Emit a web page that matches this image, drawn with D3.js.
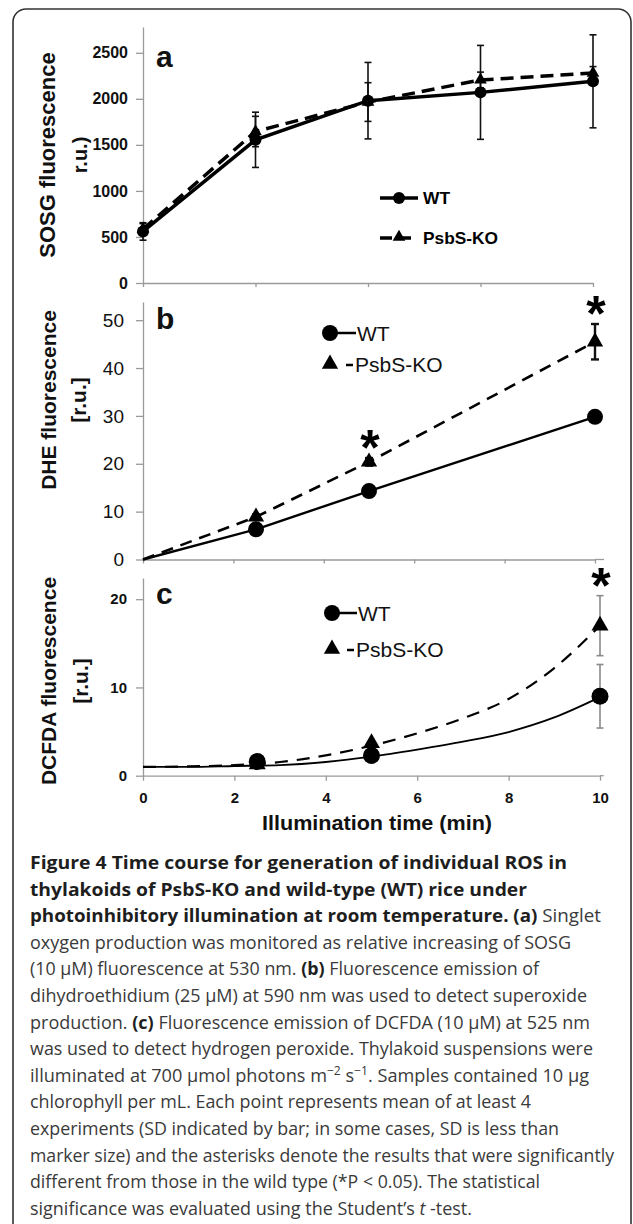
<!DOCTYPE html>
<html><head><meta charset="utf-8">
<script src="https://cdn.jsdelivr.net/npm/d3@7"></script>
<style>body{margin:0;background:#fff}svg{display:block}</style>
</head><body>
<svg id="chart" width="633" height="1224"></svg>
<script>
// ---------------- DATA ----------------
// Panel a: SOSG
const timesA = [0, 2.5, 5, 7.5, 10];
const sosgWT = [560, 1555, 1980, 2070, 2190];
const sosgWTsd = [95, 300, 415, 510, 505];
const sosgKO = [585, 1645, 1965, 2205, 2280];
const sosgKOsd = [60, 165, 210, 85, 70];
const sosgTicks = [0, 500, 1000, 1500, 2000, 2500];

// Panel b: DHE (line starts at origin)
const timesB = [0, 2.5, 5, 10];
const dheWT = [0, 6.3, 14.3, 29.8];
const dheWTsd = [0, 0.4, 0.6, 0.8];
const dheKO = [0, 8.9, 20.4, 45.5];
const dheKOsd = [0, 0.5, 0.8, 3.7];
const dheSig = [5, 10];
const dheTicks = [0, 10, 20, 30, 40, 50];

// Panel c: DCFDA
const timesC = [2.5, 5, 10];
const dcfWT = [1.6, 2.3, 9.0];
const dcfWTsd = [0.2, 0.3, 3.6];
const dcfKO = [1.3, 3.7, 17.0];
const dcfKOsd = [0.2, 0.4, 3.4];
const dcfSig = [10];
const dcfTicks = [0, 10, 20];
// fitted trend curves
const trendT = [0, 1, 2, 3, 4, 5, 6, 7, 8, 9, 10];
const dcfWTtrend = [1.0, 1.0, 1.1, 1.2, 1.55, 2.15, 2.95, 3.85, 4.95, 6.6, 8.9];
const dcfKOtrend = [1.0, 1.05, 1.2, 1.55, 2.3, 3.4, 4.8, 6.5, 8.7, 12.2, 17.0];

const timeTicks = [0, 2, 4, 6, 8, 10];
const seriesNames = ["WT", "PsbS-KO"];

const captionLines = [
  [["Figure 4 Time course for generation of individual ROS in","b"]],
  [["thylakoids of PsbS-KO and wild-type (WT) rice under","b"]],
  [["photoinhibitory illumination at room temperature. (a)","b"],[" Singlet","r"]],
  [["oxygen production was monitored as relative increasing of SOSG","r"]],
  [["(10 μM) fluorescence at 530 nm. ","r"],["(b)","b"],[" Fluorescence emission of","r"]],
  [["dihydroethidium (25 μM) at 590 nm was used to detect superoxide","r"]],
  [["production. ","r"],["(c)","b"],[" Fluorescence emission of DCFDA (10 μM) at 525 nm","r"]],
  [["was used to detect hydrogen peroxide. Thylakoid suspensions were","r"]],
  [["illuminated at 700 μmol photons m","r"],["−2","sup"],[" s","r"],["−1","sup"],[". Samples contained 10 μg","r"]],
  [["chlorophyll per mL. Each point represents mean of at least 4","r"]],
  [["experiments (SD indicated by bar; in some cases, SD is less than","r"]],
  [["marker size) and the asterisks denote the results that were significantly","r"]],
  [["different from those in the wild type (*P < 0.05). The statistical","r"]],
  [["significance was evaluated using the Student’s ","r"],["t","i"],[" -test.","r"]]
];
const captionWidths = [537, 497, 571, 541, 509, 557, 560, 563, 559, 501, 529, 584, 510, 442];

// ---------------- DRAW ----------------
const FONT = "'Liberation Sans', Arial, Helvetica, sans-serif";
const AX = "#9a9a9a";
const svg = d3.select("#chart");
const fmt = d3.format("d");

svg.append("rect").attr("x", 13).attr("y", 9).attr("width", 618).attr("height", 1260)
  .attr("rx", 13).attr("fill", "none").attr("stroke", "#333").attr("stroke-width", 1.6);

function styleAxis(g, fs, fw) {
  g.attr("font-family", null).attr("font-size", null);
  g.select(".domain").attr("stroke", AX).attr("stroke-width", 1.3);
  g.selectAll(".tick line").attr("stroke", AX).attr("stroke-width", 1.3);
  g.selectAll(".tick text").attr("font-family", FONT).attr("font-size", fs)
    .attr("font-weight", fw).attr("fill", "#111");
}
const pts = (ts, vs) => ts.map((t, i) => ({t, v: vs[i]}));

function yTitle(lines, cx, cy, fs) {
  lines.forEach(([txt, x, size]) => {
    svg.append("text").attr("transform", `translate(${x},${cy}) rotate(-90)`)
      .attr("text-anchor", "middle").attr("dominant-baseline", "central")
      .attr("font-family", FONT).attr("font-weight", "bold").attr("font-size", size)
      .attr("fill", "#111").text(txt);
  });
}
function panelLetter(txt, x, y, fs) {
  svg.append("text").attr("x", x).attr("y", y).attr("font-family", FONT)
    .attr("font-weight", "bold").attr("font-size", fs).attr("fill", "#111").text(txt);
}
function errBars(g, x, y, ts, vs, sds, cap, color, w) {
  ts.forEach((t, i) => {
    if (!sds[i]) return;
    const xx = x(t), y1 = y(vs[i] + sds[i]), y2 = y(vs[i] - sds[i]);
    g.append("line").attr("x1", xx).attr("x2", xx).attr("y1", y1).attr("y2", y2)
      .attr("stroke", color).attr("stroke-width", w);
    [y1, y2].forEach(yy => g.append("line").attr("x1", xx - cap).attr("x2", xx + cap)
      .attr("y1", yy).attr("y2", yy).attr("stroke", color).attr("stroke-width", w));
  });
}
function circles(g, x, y, ts, vs, r) {
  g.selectAll(null).data(pts(ts, vs).filter(d => d.t > 0 || ts.length === 5)).join("circle")
    .attr("cx", d => x(d.t)).attr("cy", d => y(d.v)).attr("r", r).attr("fill", "#000");
}
function triangles(g, x, y, ts, vs, size) {
  const sym = d3.symbol(d3.symbolTriangle, size);
  g.selectAll(null).data(pts(ts, vs).filter(d => d.t > 0 || ts.length === 5)).join("path")
    .attr("d", sym).attr("transform", d => `translate(${x(d.t)},${y(d.v)})`).attr("fill", "#000");
}
function asterisks(g, x, y, sigTimes, ts, vs, sds) {
  sigTimes.forEach(t => {
    const i = ts.indexOf(t);
    const cy = y(vs[i] + sds[i]) - 20;
    g.append("text").attr("x", x(t) + 1).attr("y", cy + 27).attr("text-anchor", "middle")
      .attr("font-family", FONT).attr("font-weight", "bold").attr("font-size", 50)
      .attr("fill", "#000").text("*");
  });
}

// ===== Panel a =====
{
  const x = d3.scaleLinear().domain([0, 10]).range([143, 593]);
  const y = d3.scaleLinear().domain([0, 2780]).range([283, 27]);
  const g = svg.append("g");
  g.append("g").attr("transform", "translate(143,0)")
    .call(d3.axisLeft(y).tickValues(sosgTicks).tickFormat(fmt).tickSize(7).tickPadding(8).tickSizeOuter(0))
    .call(a => styleAxis(a, 16, "bold"));
  g.append("g").attr("transform", "translate(0,283)")
    .call(d3.axisBottom(x).tickValues(timesA).tickSize(4).tickFormat("").tickSizeOuter(0))
    .call(a => styleAxis(a, 10, "normal"));
  const line = d3.line().x(d => x(d.t)).y(d => y(d.v));
  g.append("path").datum(pts(timesA, sosgKO)).attr("d", line).attr("fill", "none")
    .attr("stroke", "#000").attr("stroke-width", 3.5).attr("stroke-dasharray", "13,7");
  g.append("path").datum(pts(timesA, sosgWT)).attr("d", line).attr("fill", "none")
    .attr("stroke", "#000").attr("stroke-width", 3.5);
  errBars(g, x, y, timesA, sosgWT, sosgWTsd, 3.5, "#111", 1.6);
  errBars(g, x, y, timesA, sosgKO, sosgKOsd, 3.5, "#111", 1.6);
  circles(g, x, y, timesA, sosgWT, 6);
  triangles(g, x, y, timesA, sosgKO, 70);
  // legend
  const lg = g.append("g");
  lg.append("line").attr("x1", 380).attr("x2", 418).attr("y1", 198).attr("y2", 198)
    .attr("stroke", "#000").attr("stroke-width", 3.5);
  lg.append("circle").attr("cx", 399).attr("cy", 198).attr("r", 6);
  lg.append("line").attr("x1", 380).attr("x2", 418).attr("y1", 238).attr("y2", 238)
    .attr("stroke", "#000").attr("stroke-width", 3.5).attr("stroke-dasharray", "12,7");
  lg.append("path").attr("d", d3.symbol(d3.symbolTriangle, 70)()).attr("transform", "translate(399,237)");
  lg.append("text").attr("x", 423).attr("y", 204).attr("font-family", FONT).attr("font-weight", "bold")
    .attr("font-size", 16).attr("textLength", 27).attr("lengthAdjust", "spacingAndGlyphs").text(seriesNames[0]);
  lg.append("text").attr("x", 423).attr("y", 244).attr("font-family", FONT).attr("font-weight", "bold")
    .attr("font-size", 17).attr("textLength", 75).attr("lengthAdjust", "spacingAndGlyphs").text(seriesNames[1]);
  panelLetter("a", 156, 67, 30);
  yTitle([["SOSG fluorescence", 47, 22], ["r.u.)", 80, 20]], 0, 155);
}

// ===== Panel b =====
{
  const x = d3.scaleLinear().domain([0, 10]).range([143, 595]);
  const y = d3.scaleLinear().domain([0, 53.8]).range([559.5, 302]);
  const g = svg.append("g");
  g.append("g").attr("transform", "translate(143,0)")
    .call(d3.axisLeft(y).tickValues(dheTicks).tickFormat(fmt).tickSize(7).tickPadding(12).tickSizeOuter(0))
    .call(a => styleAxis(a, 19, "normal"));
  g.append("g").attr("transform", "translate(0,559.5)")
    .call(d3.axisBottom(x).tickValues(timeTicks).tickSize(4).tickFormat("").tickSizeOuter(0))
    .call(a => styleAxis(a, 10, "normal"));
  g.append("line").attr("x1", x(10)).attr("x2", x(10.2)).attr("y1", 559.5).attr("y2", 559.5)
    .attr("stroke", AX).attr("stroke-width", 1.3);
  const line = d3.line().x(d => x(d.t)).y(d => y(d.v));
  g.append("path").datum(pts(timesB, dheKO)).attr("d", line).attr("fill", "none")
    .attr("stroke", "#000").attr("stroke-width", 2.6).attr("stroke-dasharray", "12,8");
  g.append("path").datum(pts(timesB, dheWT)).attr("d", line).attr("fill", "none")
    .attr("stroke", "#000").attr("stroke-width", 2.4);
  errBars(g, x, y, timesB, dheKO, dheKOsd, 4, "#111", 2.4);
  circles(g, x, y, timesB, dheWT, 8);
  triangles(g, x, y, timesB, dheKO, 115);
  asterisks(g, x, y, dheSig, timesB, dheKO, dheKOsd);
  const lg = g.append("g");
  lg.append("line").attr("x1", 330).attr("x2", 356).attr("y1", 333).attr("y2", 333)
    .attr("stroke", "#000").attr("stroke-width", 2.5);
  lg.append("circle").attr("cx", 330).attr("cy", 333).attr("r", 8);
  lg.append("line").attr("x1", 346).attr("x2", 353).attr("y1", 365).attr("y2", 365)
    .attr("stroke", "#000").attr("stroke-width", 2.5);
  lg.append("path").attr("d", d3.symbol(d3.symbolTriangle, 115)()).attr("transform", "translate(330,364)");
  lg.append("text").attr("x", 357).attr("y", 341).attr("font-family", FONT)
    .attr("font-size", 21).attr("fill", "#111").text(seriesNames[0]);
  lg.append("text").attr("x", 355).attr("y", 372).attr("font-family", FONT)
    .attr("font-size", 21).attr("fill", "#111").text(seriesNames[1]);
  panelLetter("b", 156, 329, 30);
  yTitle([["DHE fluorescence", 48, 21], ["[r.u.]", 78, 21]], 0, 400);
}

// ===== Panel c =====
{
  const x = d3.scaleLinear().domain([0, 10]).range([143, 600]);
  const y = d3.scaleLinear().domain([0, 22.4]).range([775.7, 578]);
  const g = svg.append("g");
  g.append("g").attr("transform", "translate(143,0)")
    .call(d3.axisLeft(y).tickValues(dcfTicks).tickFormat(fmt).tickSize(7).tickPadding(9).tickSizeOuter(0))
    .call(a => styleAxis(a, 15, "bold"));
  g.append("g").attr("transform", "translate(0,775.7)")
    .call(d3.axisBottom(x).tickValues(timeTicks).tickFormat(fmt).tickSize(5).tickPadding(12).tickSizeOuter(0))
    .call(a => styleAxis(a, 15, "bold"));
  g.append("line").attr("x1", x(10)).attr("x2", x(10.08)).attr("y1", 775.7).attr("y2", 775.7)
    .attr("stroke", AX).attr("stroke-width", 1.3);
  const curve = d3.line().x(d => x(d.t)).y(d => y(d.v)).curve(d3.curveMonotoneX);
  g.append("path").datum(pts(trendT, dcfKOtrend)).attr("d", curve).attr("fill", "none")
    .attr("stroke", "#000").attr("stroke-width", 2.2).attr("stroke-dasharray", "13,9");
  g.append("path").datum(pts(trendT, dcfWTtrend)).attr("d", curve).attr("fill", "none")
    .attr("stroke", "#000").attr("stroke-width", 1.8);
  errBars(g, x, y, timesC, dcfWT, dcfWTsd.map((s, i) => timesC[i] === 10 ? s : 0), 3.5, "#8a8a8a", 1.6);
  errBars(g, x, y, timesC, dcfKO, dcfKOsd.map((s, i) => timesC[i] === 10 ? s : 0), 3.5, "#8a8a8a", 1.6);
  triangles(g, x, y, timesC, dcfKO, 125);
  circles(g, x, y, timesC, dcfWT, 8.5);
  asterisks(g, x, y, dcfSig, timesC, dcfKO, dcfKOsd);
  const lg = g.append("g");
  lg.append("line").attr("x1", 332).attr("x2", 357).attr("y1", 613).attr("y2", 613)
    .attr("stroke", "#000").attr("stroke-width", 2.5);
  lg.append("circle").attr("cx", 332).attr("cy", 613).attr("r", 8);
  lg.append("line").attr("x1", 347).attr("x2", 354).attr("y1", 650).attr("y2", 650)
    .attr("stroke", "#000").attr("stroke-width", 2.5);
  lg.append("path").attr("d", d3.symbol(d3.symbolTriangle, 115)()).attr("transform", "translate(332,649)");
  lg.append("text").attr("x", 358).attr("y", 621).attr("font-family", FONT)
    .attr("font-size", 21).attr("fill", "#111").text(seriesNames[0]);
  lg.append("text").attr("x", 356).attr("y", 657).attr("font-family", FONT)
    .attr("font-size", 21).attr("fill", "#111").text(seriesNames[1]);
  panelLetter("c", 156, 604, 30);
  yTitle([["DCFDA fluorescence", 48, 21], ["[r.u.]", 80, 21]], 0, 681);
  svg.append("text").attr("x", 377).attr("y", 830).attr("text-anchor", "middle")
    .attr("font-family", FONT).attr("font-weight", "bold").attr("font-size", 20)
    .attr("textLength", 230).attr("lengthAdjust", "spacingAndGlyphs").attr("fill", "#111")
    .text("Illumination time (min)");
}

// ===== Caption =====
captionLines.forEach((segs, i) => {
  const t = svg.append("text").attr("x", 30).attr("y", 869 + i * 26.6)
    .attr("font-family", "'Open Sans', 'Noto Sans', sans-serif").attr("font-size", 18)
    .attr("textLength", captionWidths[i]).attr("lengthAdjust", "spacingAndGlyphs");
  let shifted = false;
  segs.forEach(([txt, st]) => {
    const sp = t.append("tspan").text(txt);
    if (st === "b") sp.attr("font-weight", "bold").attr("fill", "#1e1e1e");
    else sp.attr("fill", "#3a3a3a");
    if (st === "i") sp.attr("font-style", "italic");
    if (st === "sup") { sp.attr("font-size", 12).attr("dy", -7); shifted = true; }
    else if (shifted) { sp.attr("dy", 7); shifted = false; }
  });
});
</script>
</body></html>
